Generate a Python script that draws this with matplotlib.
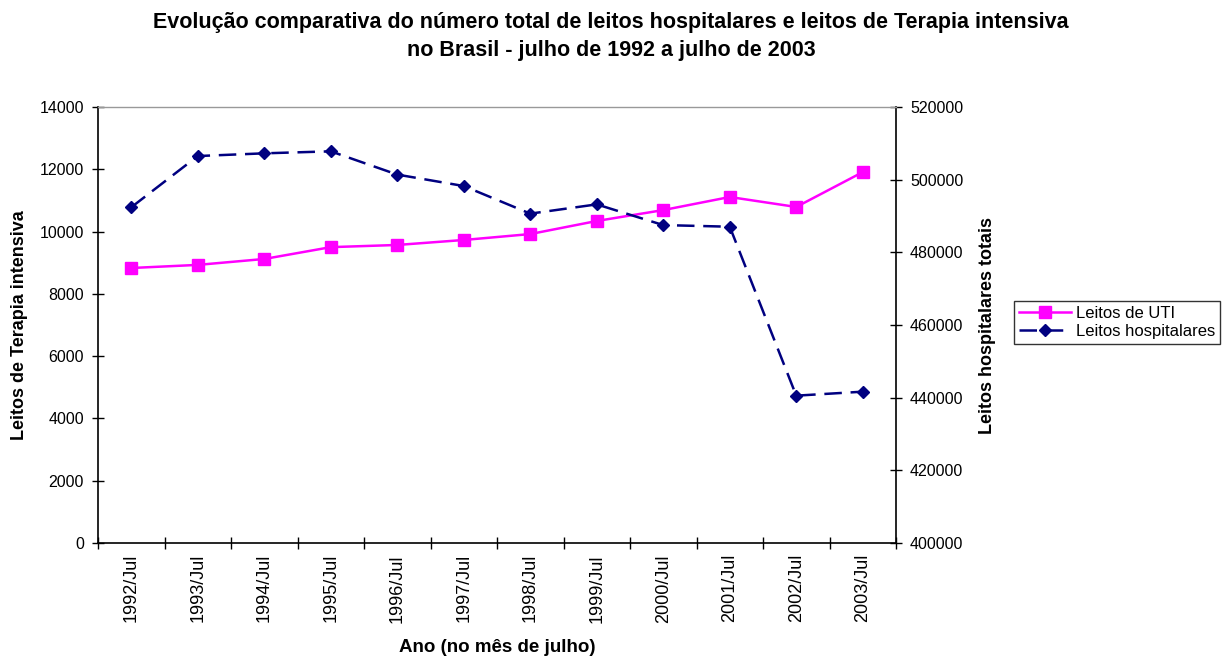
import matplotlib
matplotlib.use("Agg")
import matplotlib.pyplot as plt
from matplotlib.ticker import MultipleLocator, FixedLocator

plt.rcParams["font.family"] = ["Liberation Sans", "DejaVu Sans"]

anos = ["1992/Jul", "1993/Jul", "1994/Jul", "1995/Jul", "1996/Jul", "1997/Jul",
        "1998/Jul", "1999/Jul", "2000/Jul", "2001/Jul", "2002/Jul", "2003/Jul"]
leitos_uti = [8830, 8930, 9120, 9500, 9570, 9730, 9920, 10340, 10690, 11110, 10790, 11910]
leitos_hosp = [492400, 506500, 507250, 507800, 501400, 498250,
               490650, 493200, 487500, 487050, 440550, 441650]

x = list(range(len(anos)))

fig = plt.figure(figsize=(12.22, 6.59), dpi=100)
ax = fig.add_axes([98 / 1222, 1 - 543 / 659, (896 - 98) / 1222, (543 - 107) / 659])
ax2 = ax.twinx()

l1, = ax.plot(x, leitos_uti, color="#FF00FF", lw=1.8, marker="s", ms=8,
              label="Leitos de UTI", zorder=3)
l2, = ax2.plot(x, leitos_hosp, color="#000080", lw=1.8, ls=(0, (7, 3.5)),
               marker="D", ms=6.5, label="Leitos hospitalares")

ax.set_xlim(-0.5, len(anos) - 0.5)
ax.set_ylim(0, 14000)
ax2.set_ylim(400000, 520000)
ax.yaxis.set_major_locator(MultipleLocator(2000))
ax2.yaxis.set_major_locator(MultipleLocator(20000))

# category ticks between the labels, labels centred
ax.xaxis.set_major_locator(FixedLocator([i - 0.5 for i in range(len(anos) + 1)]))
ax.xaxis.set_major_formatter(plt.NullFormatter())
ax.set_xticks(x, minor=True)
ax.set_xticklabels(anos, minor=True, rotation=90, fontsize=13)
ax.tick_params(axis="x", which="minor", length=0, pad=8)
ax.tick_params(axis="x", which="major", direction="inout", length=8, width=1)
ax.tick_params(axis="y", direction="inout", length=8, width=1, labelsize=11.5, pad=6)
ax2.tick_params(axis="y", direction="inout", length=8, width=1, labelsize=11.5, pad=6)

for sp in ["top", "right"]:
    ax.spines[sp].set_visible(False)
ax2.spines["top"].set_color("#999999")
ax2.spines["top"].set_linewidth(1.0)
ax2.spines["left"].set_visible(False)
ax2.spines["bottom"].set_visible(False)
ax2.spines["right"].set_linewidth(1.2)
ax.spines["left"].set_linewidth(1.2)
ax.spines["bottom"].set_linewidth(1.2)

ax.set_ylabel("Leitos de Terapia intensiva", fontsize=13, fontweight="bold", labelpad=8)
ax2.set_ylabel("Leitos hospitalares totais", fontsize=13, fontweight="bold", labelpad=11)
ax.set_xlabel("Ano (no mês de julho)", fontsize=13.5, fontweight="bold", labelpad=12)

fig.suptitle("Evolução comparativa do número total de leitos hospitalares e leitos de Terapia intensiva\n"
             "no Brasil - julho de 1992 a julho de 2003",
             fontsize=15.5, fontweight="bold", y=0.982, linespacing=1.45)

leg = fig.legend(handles=[l1, l2], loc="upper left",
                 bbox_to_anchor=(1014 / 1222, 1 - 301 / 659), fontsize=12,
                 frameon=True, fancybox=False, edgecolor="black",
                 borderpad=0.3, handlelength=3.1, handletextpad=0.3,
                 labelspacing=0.2, borderaxespad=0)
leg.get_frame().set_linewidth(1.0)

fig.savefig("out.png", dpi=100, facecolor="white")
